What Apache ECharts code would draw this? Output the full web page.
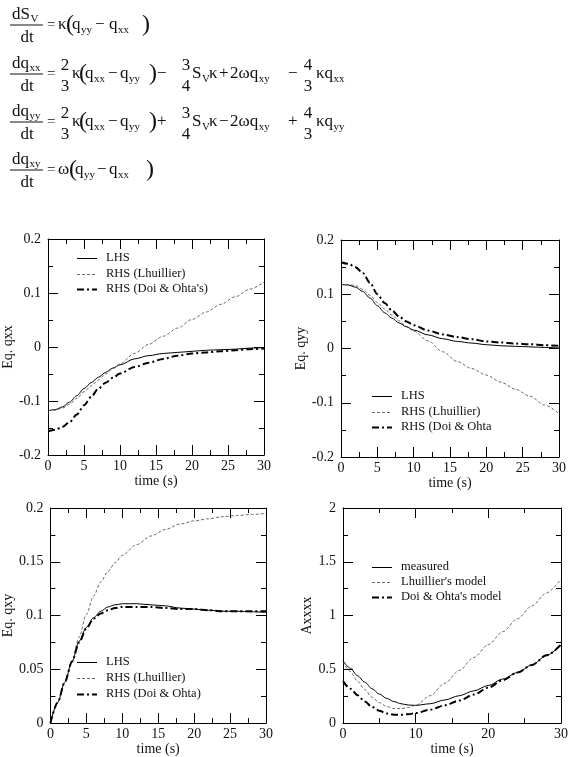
<!DOCTYPE html>
<html>
<head>
<meta charset="utf-8">
<script src="https://cdn.jsdelivr.net/npm/echarts@6/dist/echarts.min.js"></script>
<style>
    html, body { margin: 0; padding: 0; background: #fff; }
    #formula { width: 574px; height: 200px; }
    #chart { width: 574px; height: 557px; }
</style>
</head>
<body>
<div id="formula"></div>
<div id="chart"></div>
<script>
    // time samples (s), shared by all four panels
    var times = [0, 1, 2, 3, 4, 5, 6, 7, 8, 9, 10, 12, 14, 16, 18, 20, 22, 24, 26, 28, 30];

    // Eq. qxx
    var qxxLHS = [-0.118, -0.116, -0.111, -0.102, -0.090, -0.077, -0.066, -0.056, -0.047, -0.039, -0.033, -0.022, -0.016, -0.012, -0.010, -0.008, -0.006, -0.005, -0.004, -0.002, -0.001];
    var qxxLhuillier = [-0.118, -0.117, -0.113, -0.106, -0.095, -0.083, -0.072, -0.061, -0.050, -0.040, -0.031, -0.012, 0.005, 0.020, 0.035, 0.051, 0.065, 0.079, 0.093, 0.107, 0.120];
    var qxxDoi = [-0.156, -0.153, -0.148, -0.139, -0.125, -0.108, -0.092, -0.077, -0.066, -0.057, -0.049, -0.037, -0.029, -0.022, -0.016, -0.012, -0.010, -0.008, -0.006, -0.004, -0.003];

    // Eq. qyy
    var qyyLHS = [0.118, 0.117, 0.113, 0.105, 0.093, 0.079, 0.066, 0.056, 0.047, 0.040, 0.034, 0.025, 0.018, 0.013, 0.010, 0.007, 0.005, 0.004, 0.003, 0.002, 0.001];
    var qyyLhuillier = [0.118, 0.118, 0.116, 0.109, 0.098, 0.085, 0.073, 0.062, 0.051, 0.041, 0.032, 0.014, -0.006, -0.024, -0.037, -0.049, -0.062, -0.075, -0.088, -0.104, -0.120];
    var qyyDoi = [0.159, 0.156, 0.150, 0.139, 0.121, 0.100, 0.084, 0.070, 0.059, 0.050, 0.043, 0.033, 0.026, 0.021, 0.017, 0.013, 0.011, 0.009, 0.008, 0.006, 0.005];

    // Eq. qxy
    var qxyLHS = [0, 0.019, 0.038, 0.057, 0.076, 0.089, 0.098, 0.104, 0.108, 0.110, 0.111, 0.111, 0.110, 0.109, 0.107, 0.106, 0.105, 0.104, 0.104, 0.1035, 0.103];
    var qxyLhuillier = [0, 0.019, 0.038, 0.058, 0.080, 0.101, 0.118, 0.131, 0.141, 0.149, 0.156, 0.166, 0.174, 0.180, 0.185, 0.188, 0.190, 0.192, 0.193, 0.194, 0.195];
    var qxyDoi = [0, 0.019, 0.038, 0.057, 0.075, 0.088, 0.097, 0.102, 0.105, 0.107, 0.108, 0.108, 0.108, 0.107, 0.106, 0.106, 0.105, 0.104, 0.104, 0.104, 0.104];

    // Axxxx
    var aMeasured = [0.58, 0.51, 0.44, 0.38, 0.32, 0.27, 0.23, 0.20, 0.18, 0.168, 0.165, 0.18, 0.215, 0.255, 0.30, 0.35, 0.41, 0.47, 0.54, 0.63, 0.73];
    var aLhuillier = [0.57, 0.48, 0.39, 0.31, 0.24, 0.19, 0.155, 0.135, 0.135, 0.145, 0.165, 0.255, 0.37, 0.49, 0.61, 0.73, 0.85, 0.97, 1.09, 1.21, 1.34];
    var aDoi = [0.39, 0.32, 0.26, 0.20, 0.15, 0.115, 0.09, 0.078, 0.077, 0.083, 0.093, 0.125, 0.165, 0.21, 0.265, 0.33, 0.40, 0.47, 0.54, 0.63, 0.73];

    // legend texts per panel
    var legendQxx = ['LHS', 'RHS (Lhuillier)', "RHS (Doi & Ohta's)"];
    var legendQyy = ['LHS', 'RHS (Lhuillier)', 'RHS (Doi & Ohta'];
    var legendQxy = ['LHS', 'RHS (Lhuillier)', 'RHS (Doi & Ohta)'];
    var legendA = ['measured', "Lhuillier's model", "Doi & Ohta's model"];

    var FONT = '"Liberation Serif", "Times New Roman", serif';

    // ---------------- 公式（单独一个实例） ----------------
    var formulaChart = echarts.init(document.getElementById('formula'));
    var gfx = [];
    var ctx = document.createElement('canvas').getContext('2d');
    var MAIN = 17, SUB = 11, PAREN = 24;
    function measure(s, size) {
        ctx.font = size + 'px ' + FONT;
        return ctx.measureText(s).width;
    }
    function txt(s, x, y, size, align) {
        gfx.push({
            type: 'text', x: x, y: y, silent: true,
            style: {text: s, font: size + 'px ' + FONT, fill: '#111', align: align || 'left', verticalAlign: 'middle'}
        });
    }
    function withSub(base, sub, x, y) {
        txt(base, x, y, MAIN);
        txt(sub, x + measure(base, MAIN) + 0.5, y + 5, SUB);
    }
    function bar(x1, x2, y) {
        gfx.push({type: 'line', silent: true, shape: {x1: x1, y1: y, x2: x2, y2: y}, style: {stroke: '#111', lineWidth: 1}});
    }
    function lhs(top, sub, y) {
        txt(top, 12, y - 10, MAIN);
        txt(sub, 12 + measure(top, MAIN) + 0.5, y - 6, SUB);
        bar(10, 43, y);
        txt('dt', 27, y + 13, MAIN, 'center');
        txt('=', 47, y, 15);
    }
    function frac(a, b, x, y) {
        txt(a, x, y - 8, MAIN, 'center');
        txt(b, x, y + 13, MAIN, 'center');
    }

    // dS_V/dt
    var y1 = 25;
    lhs('dS', 'V', y1);
    txt('κ', 58, y1, MAIN);
    txt('(', 66, y1, PAREN);
    withSub('q', 'yy', 72, y1);
    txt('−', 95, y1, MAIN);
    withSub('q', 'xx', 109, y1);
    txt(')', 142, y1, PAREN);

    // dq_xx/dt, dq_yy/dt
    function middleEq(y, sub, s1, s2, s3, last) {
        lhs('dq', sub, y);
        frac('2', '3', 65, y);
        txt('κ', 72, y, MAIN);
        txt('(', 79, y, PAREN);
        withSub('q', 'xx', 85, y);
        txt('−', 108, y, MAIN);
        withSub('q', 'yy', 120, y);
        txt(')', 149, y, PAREN);
        txt(s1, 157, y, MAIN);
        frac('3', '4', 186, y);
        withSub('S', 'V', 192, y);
        txt('κ', 209, y, MAIN);
        txt(s2, 219, y, MAIN);
        withSub('2ωq', 'xy', 230, y);
        txt(s3, 288, y, MAIN);
        frac('4', '3', 308, y);
        withSub('κq', last, 316, y);
    }
    middleEq(74, 'xx', '−', '+', '−', 'xx');
    middleEq(122, 'yy', '+', '−', '+', 'yy');

    // dq_xy/dt
    var y4 = 170;
    lhs('dq', 'xy', y4);
    txt('ω', 58, y4, MAIN);
    txt('(', 69, y4, PAREN);
    withSub('q', 'yy', 75, y4);
    txt('−', 97, y4, MAIN);
    withSub('q', 'xx', 109, y4);
    txt(')', 146, y4, PAREN);

    formulaChart.setOption({animation: false, graphic: gfx});

    // ---------------- 四个小图 ----------------
    var myChart = echarts.init(document.getElementById('chart'));
    var OFF = 200;   // 图表实例从页面 y=200 开始

    function pairs(ys) {
        return times.map(function (t, i) { return [t, ys[i]]; });
    }

    // 三种线型
    var solid = {color: '#000', width: 1, type: 'solid'};
    var dashed = {color: '#444', width: 0.8, type: [3, 2]};
    var dashDot = {color: '#000', width: 2, type: [7, 3, 2, 3]};

    function line(name, ys, g, style) {
        return {
            type: 'line', name: name, data: pairs(ys),
            xAxisIndex: g, yAxisIndex: g,
            symbol: 'none', showSymbol: false,
            smooth: 0.3, smoothMonotone: 'x',
            lineStyle: style, itemStyle: {color: '#000'}
        };
    }

    function common(g, pos, labelShown) {
        return {
            type: 'value', gridIndex: g, position: pos,
            nameLocation: 'middle',
            nameTextStyle: {fontFamily: FONT, fontSize: 14, color: '#111'},
            axisLine: {show: true, onZero: false, lineStyle: {color: '#000', width: 1}},
            axisTick: {show: true, inside: true, length: 10, lineStyle: {color: '#000', width: 1}},
            minorTick: {show: true, splitNumber: 2, length: 5, lineStyle: {color: '#000', width: 1}},
            axisLabel: {show: labelShown, fontFamily: FONT, fontSize: 14, color: '#111'},
            splitLine: {show: false}
        };
    }
    function xAxis(g, pos, interval) {
        var a = common(g, pos, pos === 'bottom');
        a.min = 0; a.max = 30; a.interval = interval;
        a.name = pos === 'bottom' ? 'time (s)' : '';
        a.nameGap = 18;
        a.axisLabel.margin = 4;
        return a;
    }
    function yAxis(g, pos, min, max, interval, name, gap) {
        var a = common(g, pos, pos === 'left');
        a.min = min; a.max = max; a.interval = interval;
        a.name = pos === 'left' ? name : '';
        a.nameGap = gap;
        a.axisLabel.margin = 7;
        return a;
    }

    // 图例：自己画（短线 + 文字）
    var legendItems = [];
    function addLegend(names, lx, ly, pitch) {
        [solid, dashed, dashDot].forEach(function (st, i) {
            legendItems.push({name: names[i], x: lx, y: ly + i * pitch - OFF, style: st});
        });
    }
    addLegend(legendQxx, 77, 258, 15.5);
    addLegend(legendQyy, 372, 396, 15.5);
    addLegend(legendQxy, 77, 662, 16);
    addLegend(legendA, 372, 567, 15);

    var legendSeries = {
        type: 'custom', coordinateSystem: 'none', silent: true,
        data: legendItems.map(function (d, i) { return i; }),
        renderItem: function (params) {
            var d = legendItems[params.dataIndex];
            var y = Math.round(d.y) + 0.5;
            return {type: 'group', children: [
                {type: 'line', shape: {x1: d.x, y1: y, x2: d.x + 20, y2: y},
                    style: {stroke: d.style.color, lineWidth: d.style.width,
                        lineDash: d.style.type === 'solid' ? null : d.style.type}},
                {type: 'text', x: d.x + 29, y: d.y,
                    style: {text: d.name, font: '12.5px ' + FONT, fill: '#111', verticalAlign: 'middle'}}
            ]};
        }
    };

    var option = {
        animation: false,
        grid: [
            {left: 46, top: 239 - OFF, width: 218, height: 216},
            {left: 341, top: 240 - OFF, width: 218, height: 217},
            {left: 47, top: 508 - OFF, width: 219, height: 217},
            {left: 343, top: 508 - OFF, width: 218, height: 218}
        ],
        xAxis: [
            xAxis(0, 'bottom', 5), xAxis(0, 'top', 5),
            xAxis(1, 'bottom', 5), xAxis(1, 'top', 5),
            xAxis(2, 'bottom', 5), xAxis(2, 'top', 5),
            xAxis(3, 'bottom', 10), xAxis(3, 'top', 10)
        ],
        yAxis: [
            yAxis(0, 'left', -0.2, 0.2, 0.1, 'Eq. qxx', 25), yAxis(0, 'right', -0.2, 0.2, 0.1, '', 0),
            yAxis(1, 'left', -0.2, 0.2, 0.1, 'Eq. qyy', 31), yAxis(1, 'right', -0.2, 0.2, 0.1, '', 0),
            yAxis(2, 'left', 0, 0.2, 0.05, 'Eq. qxy', 32), yAxis(2, 'right', 0, 0.2, 0.05, '', 0),
            yAxis(3, 'left', 0, 2, 0.5, 'Axxxx', 22), yAxis(3, 'right', 0, 2, 0.5, '', 0)
        ],
        series: [
            line('LHS', qxxLHS, 0, solid),
            line('RHS (Lhuillier)', qxxLhuillier, 0, dashed),
            line("RHS (Doi & Ohta's)", qxxDoi, 0, dashDot),
            line('LHS', qyyLHS, 2, solid),
            line('RHS (Lhuillier)', qyyLhuillier, 2, dashed),
            line('RHS (Doi & Ohta', qyyDoi, 2, dashDot),
            line('LHS', qxyLHS, 4, solid),
            line('RHS (Lhuillier)', qxyLhuillier, 4, dashed),
            line('RHS (Doi & Ohta)', qxyDoi, 4, dashDot),
            line('measured', aMeasured, 6, solid),
            line("Lhuillier's model", aLhuillier, 6, dashed),
            line("Doi & Ohta's model", aDoi, 6, dashDot),
            legendSeries
        ]
    };

    myChart.setOption(option);
</script>
</body>
</html>
